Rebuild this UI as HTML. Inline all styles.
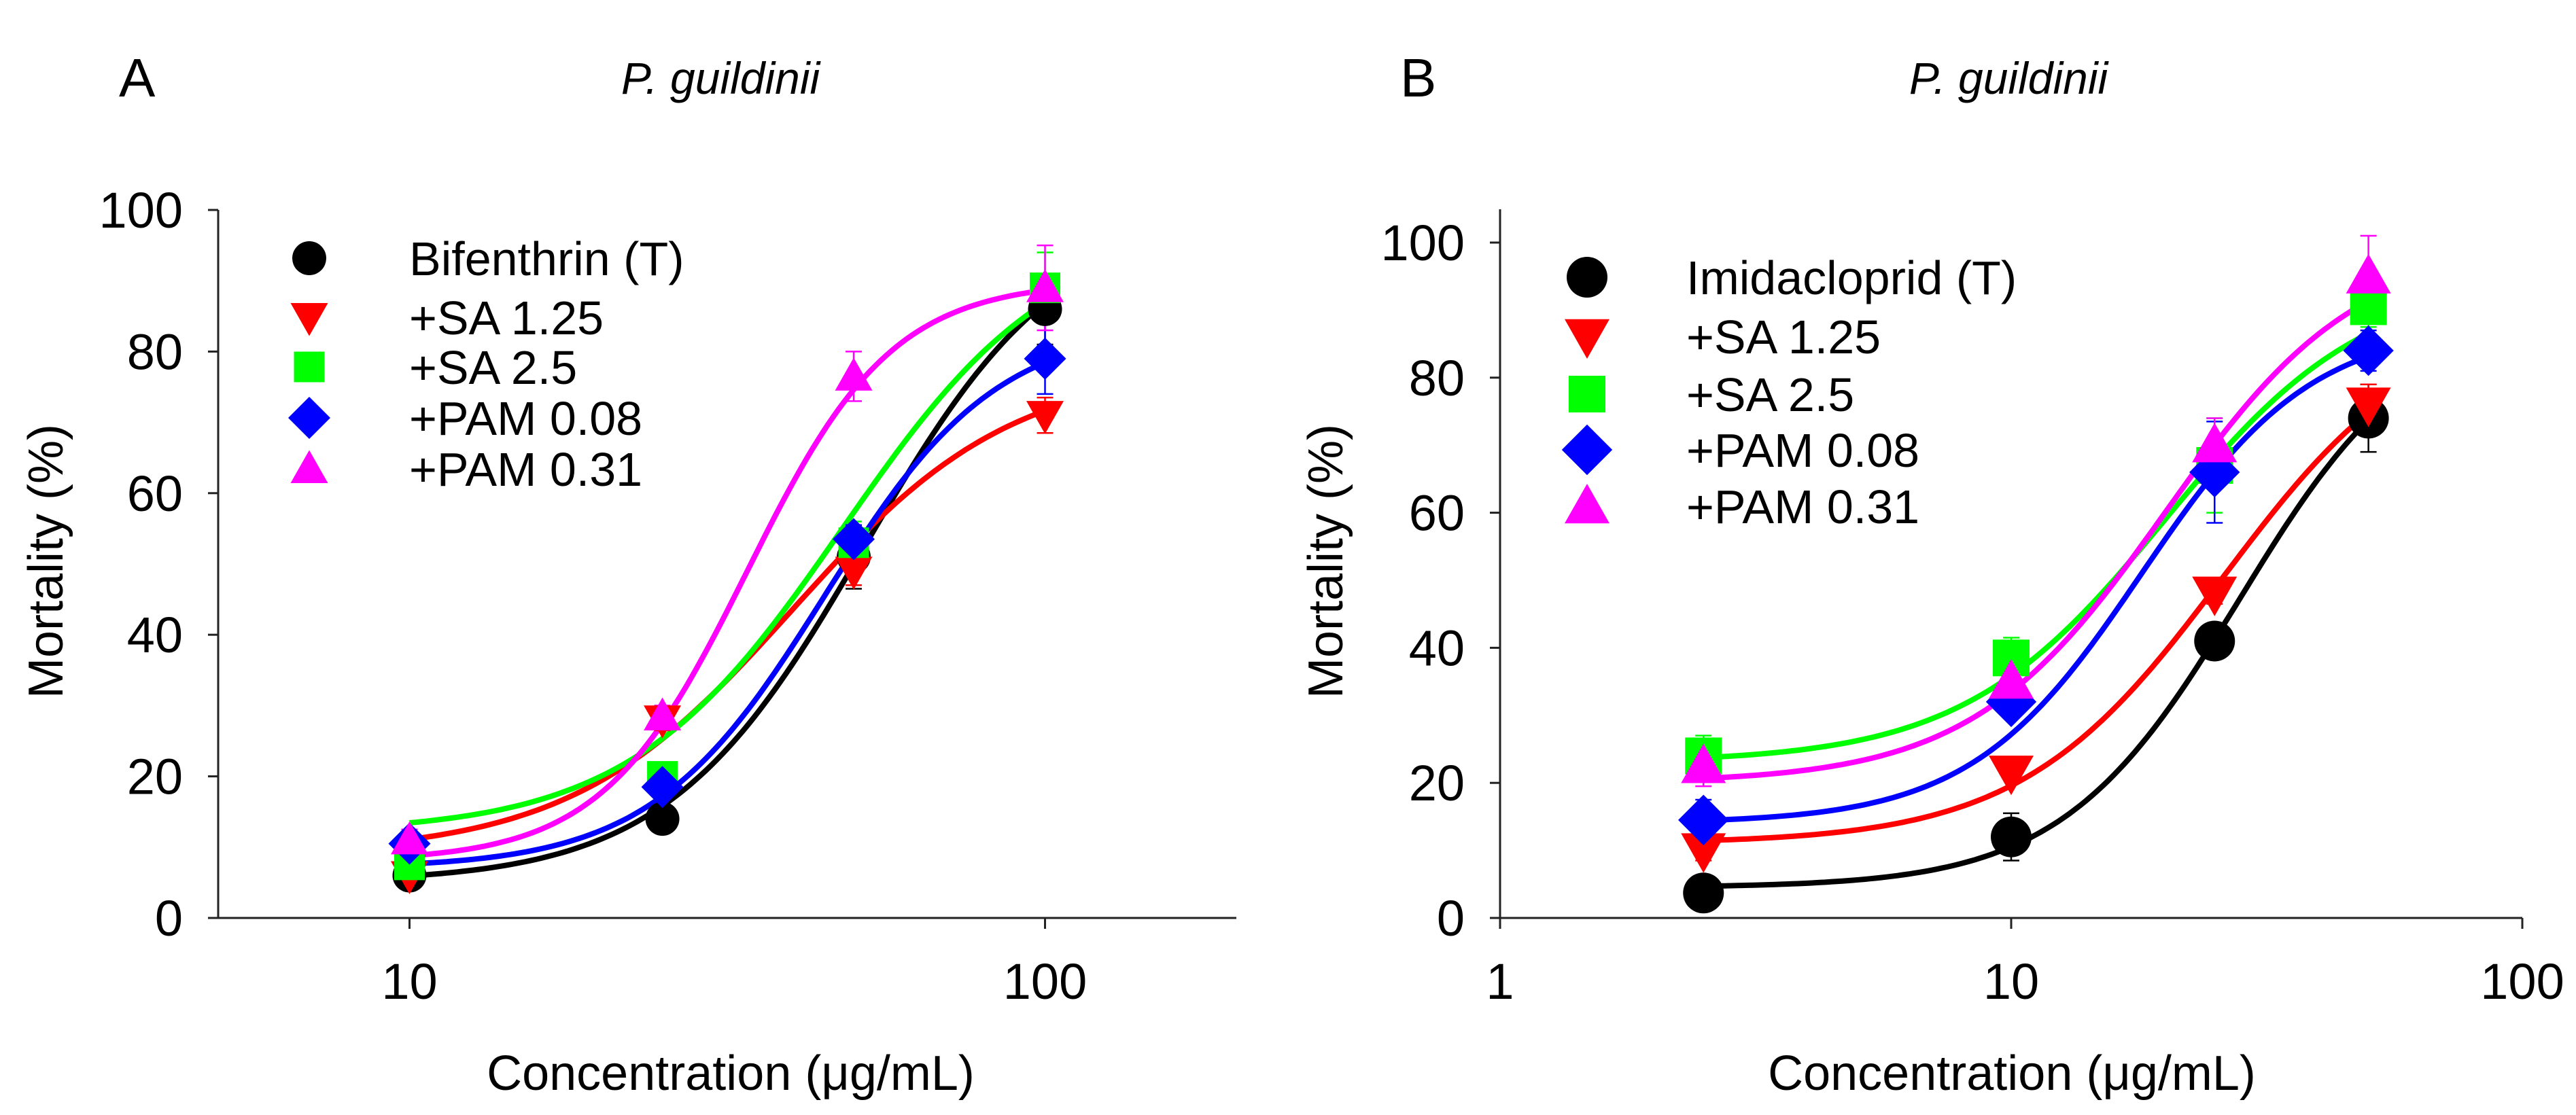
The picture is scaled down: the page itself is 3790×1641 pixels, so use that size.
<!DOCTYPE html>
<html><head><meta charset="utf-8"><style>
html,body{margin:0;padding:0;background:#fff;}
svg{display:block;font-family:"Liberation Sans",Arial,sans-serif;}
</style></head><body>
<svg id="chart" width="3790" height="1641" viewBox="0 0 3790 1641" xmlns="http://www.w3.org/2000/svg"></svg>
<script>
// Panel A data (Bifenthrin)
const aX = [10, 25, 50, 100];
const aNames = ["Bifenthrin (T)", "+SA 1.25", "+SA 2.5", "+PAM 0.08", "+PAM 0.31"];
const aBlack = [6, 14, 51, 86];
const aRed = [6, 28, 49, 71];
const aGreen = [7.5, 20, 53, 89];
const aBlue = [10.5, 18.5, 53.5, 79];
const aMagenta = [11, 28.5, 76.5, 89];
const aErrBlack = [0, 2, 4.5, 5];
const aErrRed = [0, 1.5, 2, 2.5];
const aErrGreen = [1, 1, 3, 5];
const aErrBlue = [1, 1, 2, 5];
const aErrMagenta = [1.5, 1.5, 3.5, 6];
// fitted curve params: bottom, top, ec50, hill
const aFitBlack = [5, 100, 52, 2.8];
const aFitRed = [9, 78, 40, 2.5];
const aFitGreen = [12, 98, 48, 2.6];
const aFitBlue = [7, 84, 45, 3.2];
const aFitMagenta = [8, 90, 34, 3.8];
const aXTicks = [10, 100];
// Panel B data (Imidacloprid)
const bX = [2.5, 10, 25, 50];
const bNames = ["Imidacloprid (T)", "+SA 1.25", "+SA 2.5", "+PAM 0.08", "+PAM 0.31"];
const bBlack = [3.7, 12, 41, 74];
const bRed = [10, 21.5, 48, 76];
const bGreen = [24, 38.5, 67, 90.5];
const bBlue = [14.5, 32, 66, 84];
const bMagenta = [22.5, 35, 70, 95];
const bErrBlack = [0, 3.5, 0, 5];
const bErrRed = [1.5, 1, 1.5, 3];
const bErrGreen = [3, 3, 7, 3];
const bErrBlue = [3, 2, 7.5, 3];
const bErrMagenta = [3, 3, 4, 6];
const bFitBlack = [4.5, 90, 28, 2.5];
const bFitRed = [11, 90, 26, 2.2];
const bFitGreen = [23, 95, 20, 2.2];
const bFitBlue = [14, 88, 18, 2.6];
const bFitMagenta = [20, 100, 20, 2.3];
const bXTicks = [1, 10, 100];
const yTicks = [0, 20, 40, 60, 80, 100];

const colors = ["#000000", "#ff0000", "#00ff00", "#0000ff", "#ff00ff"];
const shapes = ["circle", "down", "square", "diamond", "up"];
const NS = "http://www.w3.org/2000/svg";
const svg = document.getElementById("chart");
function mk(tag, attrs, parent) {
  const e = document.createElementNS(NS, tag);
  for (const k in attrs) e.setAttribute(k, attrs[k]);
  (parent || svg).appendChild(e);
  return e;
}
function marker(g, shape, cx, cy, s, color) {
  let e;
  if (shape === "circle") e = mk("circle", {cx: cx, cy: cy, r: s * 0.5, fill: color}, g);
  else if (shape === "square") e = mk("rect", {x: cx - s * 0.45, y: cy - s * 0.45, width: s * 0.9, height: s * 0.9, fill: color}, g);
  else if (shape === "diamond") e = mk("polygon", {points: `${cx},${cy - s * 0.62} ${cx + s * 0.62},${cy} ${cx},${cy + s * 0.62} ${cx - s * 0.62},${cy}`, fill: color}, g);
  else if (shape === "down") e = mk("polygon", {points: `${cx - s * 0.55},${cy - s * 0.42} ${cx + s * 0.55},${cy - s * 0.42} ${cx},${cy + s * 0.55}`, fill: color}, g);
  else e = mk("polygon", {points: `${cx - s * 0.55},${cy + s * 0.42} ${cx + s * 0.55},${cy + s * 0.42} ${cx},${cy - s * 0.55}`, fill: color}, g);
  return e;
}
function drawPanel(p) {
  const g = mk("g", {});
  
  
  const lx0 = Math.log10(p.xmin), lx1 = Math.log10(p.xmax);
  const sx = v => p.left + (Math.log10(v) - lx0) / (lx1 - lx0) * (p.right - p.left);
  const sy = v => p.y0 - v / 100 * (p.y0 - p.y100);
  const ya = mk("line", {x1: p.left, y1: p.axTop, x2: p.left, y2: p.y0, stroke: "#222", "stroke-width": 3}, g);
  
  
  const xa = mk("line", {x1: p.left - 15, y1: p.y0, x2: p.right, y2: p.y0, stroke: "#222", "stroke-width": 3}, g);
  
  
  yTicks.forEach(t => {
    const y = sy(t);
    mk("line", {x1: p.left - 15, y1: y, x2: p.left, y2: y, stroke: "#222", "stroke-width": 3}, g);
    const tx = mk("text", {x: p.left - 52, y: y + 26, "font-size": 74, "text-anchor": "end", fill: "#000"}, g);
    tx.textContent = t;
    
    
  });
  p.xticks.forEach(t => {
    const x = sx(t);
    mk("line", {x1: x, y1: p.y0, x2: x, y2: p.y0 + 16, stroke: "#222", "stroke-width": 3}, g);
    const tx = mk("text", {x: x, y: 1470, "font-size": 74, "text-anchor": "middle", fill: "#000"}, g);
    tx.textContent = t;
    
    
  });
  p.fits.forEach((f, i) => {
    const xs0 = Math.log10(p.x[0]), xs1 = Math.log10(p.x[p.x.length - 1]);
    let d = "";
    for (let k = 0; k <= 120; k++) {
      const xv = Math.pow(10, xs0 + (xs1 - xs0) * k / 120);
      const yv = f[0] + (f[1] - f[0]) / (1 + Math.pow(f[2] / xv, f[3]));
      d += (k ? "L" : "M") + sx(xv).toFixed(1) + "," + sy(yv).toFixed(1);
    }
    const c = mk("path", {d: d, fill: "none", stroke: colors[i], "stroke-width": 8}, g);
    
    
  });
  p.series.forEach((s, i) => {
    s.forEach((v, j) => {
      const e = p.errs[i][j];
      if (e > 0) {
        const x = sx(p.x[j]);
        mk("line", {x1: x, y1: sy(v + e), x2: x, y2: sy(v - e), stroke: colors[i], "stroke-width": 2.5}, g);
        mk("line", {x1: x - 12, y1: sy(v + e), x2: x + 12, y2: sy(v + e), stroke: colors[i], "stroke-width": 2.5}, g);
        mk("line", {x1: x - 12, y1: sy(v - e), x2: x + 12, y2: sy(v - e), stroke: colors[i], "stroke-width": 2.5}, g);
      }
    });
  });
  p.series.forEach((s, i) => {
    s.forEach((v, j) => {
      const m = marker(g, shapes[i], sx(p.x[j]), sy(v), p.ms, colors[i]);
      
      
    });
  });
  p.names.forEach((n, i) => {
    const y = p.legY[i];
    const m = marker(g, shapes[i], p.legMx, y, p.ms, colors[i]);
    
    
    const t = mk("text", {x: p.legTx, y: y + 25, "font-size": 70, fill: "#000"}, g);
    t.textContent = n;
    
    
  });
  const lt = mk("text", {x: p.letterX, y: 142, "font-size": 80, fill: "#000"}, g);
  lt.textContent = p.letter;
  
  
  const tt = mk("text", {x: p.titleX, y: 138, "font-size": 66, "font-style": "italic", "text-anchor": "middle", fill: "#000"}, g);
  tt.textContent = "P. guildinii";
  
  
  const yl = mk("text", {x: 0, y: 0, "font-size": 72, "text-anchor": "middle", fill: "#000", transform: `translate(${p.ylabX},826) rotate(-90)`}, g);
  yl.textContent = "Mortality (%)";
  
  
  const xl = mk("text", {x: p.xlabX, y: 1604, "font-size": 72, "text-anchor": "middle", fill: "#000"}, g);
  xl.textContent = "Concentration (μg/mL)";
  
  
}
drawPanel({id: "panel-a", left: 321, right: 1819, xmin: 5, xmax: 200, y0: 1351, y100: 309, axTop: 309,
  x: aX, xticks: aXTicks, series: [aBlack, aRed, aGreen, aBlue, aMagenta],
  errs: [aErrBlack, aErrRed, aErrGreen, aErrBlue, aErrMagenta],
  fits: [aFitBlack, aFitRed, aFitGreen, aFitBlue, aFitMagenta], names: aNames, ms: 50,
  legMx: 455, legTx: 602, legY: [380, 467, 540, 615, 690], letter: "A", letterX: 175, titleX: 1060, ylabX: 92, xlabX: 1075});
drawPanel({id: "panel-b", left: 2207, right: 3711, xmin: 1, xmax: 100, y0: 1351, y100: 357, axTop: 308,
  x: bX, xticks: bXTicks, series: [bBlack, bRed, bGreen, bBlue, bMagenta],
  errs: [bErrBlack, bErrRed, bErrGreen, bErrBlue, bErrMagenta],
  fits: [bFitBlack, bFitRed, bFitGreen, bFitBlue, bFitMagenta], names: bNames, ms: 60,
  legMx: 2335, legTx: 2481, legY: [408, 495, 580, 662, 745], letter: "B", letterX: 2060, titleX: 2955, ylabX: 1975, xlabX: 2960});
</script>
</body></html>
